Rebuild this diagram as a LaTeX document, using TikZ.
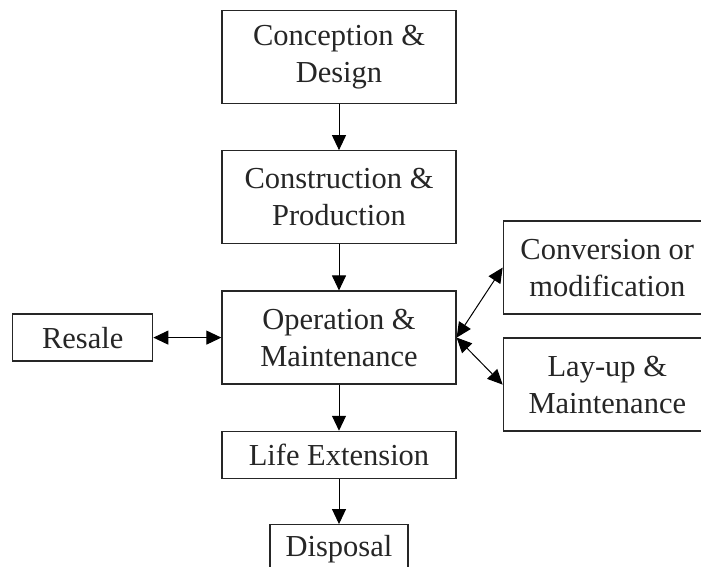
\documentclass[tikz,border=0pt]{standalone}
\usepackage{fontspec}
\setmainfont{Liberation Serif}
\usetikzlibrary{arrows.meta,positioning}
\tikzset{
  lc_box/.style={rectangle,
    draw=black!85,line width=1.3pt,fill=white,
    align=center,text=black!85,
    font=\fontsize{30.5}{37}\selectfont,
    minimum width=234pt,minimum height=93pt,inner sep=2pt},
  lc_small/.style={lc_box,minimum height=47pt},
  arr/.style={-{Triangle[length=15pt,width=14pt]},line width=1pt,draw=black},
  darr/.style={{Triangle[length=15pt,width=14pt]}-{Triangle[length=15pt,width=14pt]},
    line width=1pt,draw=black},
}
\begin{document}
\begin{tikzpicture}[node distance=46pt]

  \useasboundingbox (0,0) rectangle (701pt,-567pt);
  \clip (0,0) rectangle (701pt,-567pt);

  \node (concept) [lc_box] at (339pt,-57pt) {Conception \&\\Design};

  \node (constr) [lc_box, below=of concept] {Construction \&\\Production};

  \node (oper) [lc_box, below=of constr] {Operation \&\\Maintenance};

  \node (life) [lc_small, below=of oper] {Life Extension};

  \node (disp) [lc_small, below=45pt of life,
                minimum width=138pt, minimum height=48pt] {Disposal};

  \node (resale) [lc_small, left=68pt of oper, minimum width=140pt] {Resale};

  \node (conv) [lc_box, right=46pt of oper, yshift=70pt,
                minimum width=208pt] {Conversion or\\modification};

  \node (layup) [lc_box, right=46pt of oper, yshift=-47pt,
                 minimum width=208pt] {Lay-up \&\\Maintenance};

  \draw[arr] (concept) -- (constr);
  \draw[arr] (constr)  -- (oper);
  \draw[arr] (oper)    -- (life);
  \draw[arr] (life)    -- (disp);
  \draw[darr] (resale) -- (oper);
  \draw[darr] (oper.east) -- (conv.west);
  \draw[darr] (oper.east) -- (layup.west);

\end{tikzpicture}
\end{document}
